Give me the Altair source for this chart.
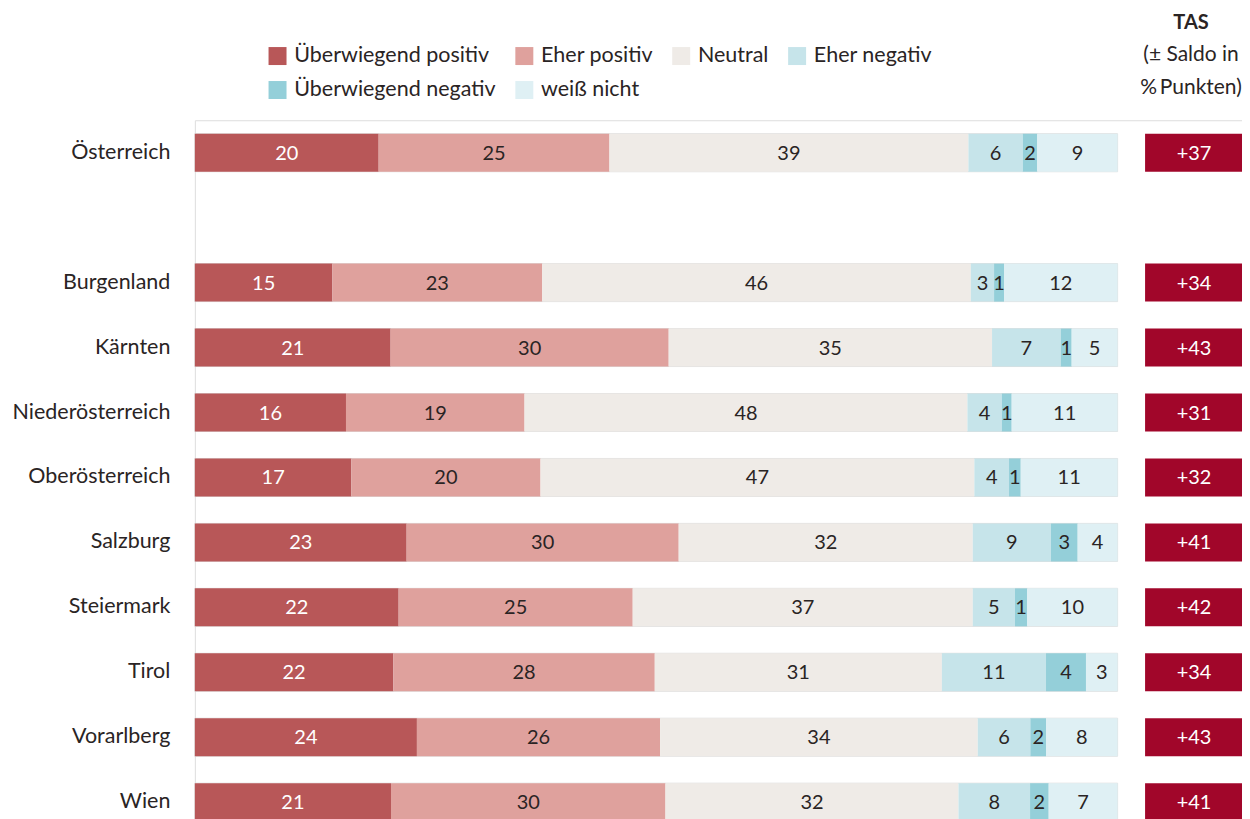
import altair as alt
import pandas as pd

regions = ["Österreich", "Burgenland", "Kärnten", "Niederösterreich", "Oberösterreich",
           "Salzburg", "Steiermark", "Tirol", "Vorarlberg", "Wien"]
categories = ["Überwiegend positiv", "Eher positiv", "Neutral", "Eher negativ",
              "Überwiegend negativ", "weiß nicht"]
colors = ["#b85758", "#dfa19d", "#efebe7", "#c6e4ea", "#94cfd9", "#dff0f4"]

# shares (percent)
ueberwiegend_positiv = [19.92, 14.91, 21.22, 16.38, 16.97, 22.96, 22.09, 21.52, 24.07, 21.26]
eher_positiv = [25.01, 22.74, 30.14, 19.35, 20.50, 29.49, 25.37, 28.33, 26.36, 29.75]
neutral = [38.90, 46.45, 35.05, 48.00, 47.03, 31.88, 36.86, 31.12, 34.43, 31.76]
eher_negativ = [5.89, 2.52, 7.44, 3.72, 3.76, 8.48, 4.58, 11.29, 5.70, 7.76]
ueberwiegend_negativ = [1.58, 1.08, 1.19, 1.08, 1.27, 2.89, 1.33, 4.33, 1.70, 2.02]
weiss_nicht = [8.70, 12.31, 4.98, 11.48, 10.50, 4.33, 9.79, 3.43, 7.76, 7.47]

# printed labels
lab_up = [20, 15, 21, 16, 17, 23, 22, 22, 24, 21]
lab_ep = [25, 23, 30, 19, 20, 30, 25, 28, 26, 30]
lab_n = [39, 46, 35, 48, 47, 32, 37, 31, 34, 32]
lab_en = [6, 3, 7, 4, 4, 9, 5, 11, 6, 8]
lab_un = [2, 1, 1, 1, 1, 3, 1, 4, 2, 2]
lab_wn = [9, 12, 5, 11, 11, 4, 10, 3, 8, 7]

tas = ["+37", "+34", "+43", "+31", "+32", "+41", "+42", "+34", "+43", "+41"]
header_title = "TAS"
header_lines = ["(± Saldo in", "%\u2009Punkten)"]

GAP = "_gap_"
y_domain = [regions[0], GAP] + regions[1:]

series = [ueberwiegend_positiv, eher_positiv, neutral, eher_negativ, ueberwiegend_negativ, weiss_nicht]
labels = [lab_up, lab_ep, lab_n, lab_en, lab_un, lab_wn]

rows = []
for ci, cat in enumerate(categories):
    for ri, reg in enumerate(regions):
        rows.append({"region": reg, "category": cat, "order": ci,
                     "value": series[ci][ri], "label": str(labels[ci][ri])})
df = pd.DataFrame(rows)
df_reg = pd.DataFrame({"region": regions, "tas": tas})

FONT = "Lato"
TXT = "#2a2424"
W = 1048

yenc = alt.Y("region:N",
             scale=alt.Scale(domain=y_domain, paddingInner=0.415, paddingOuter=0.2075),
             axis=alt.Axis(title=None, domain=False, ticks=False, grid=False, labelPadding=25,
                           labelFontSize=21.5, labelFont=FONT, labelColor=TXT,
                           labelExpr="datum.value == '_gap_' ? '' : datum.value"))
xscale = alt.Scale(domain=[0, 113.48], nice=False, zero=False)

base = alt.Chart(df).transform_stack(
    stack="value", groupby=["region"], as_=["s0", "s1"], offset="normalize",
    sort=[alt.SortField("order", order="ascending")]
).transform_calculate(
    x0="datum.s0 * 100", x1="datum.s1 * 100", mid="(datum.s0 + datum.s1) * 50"
)

# thin grey edge around each full bar
edge = base.transform_filter(alt.datum.order == 0).mark_bar(
    color="white", stroke="#dedede", strokeWidth=1
).encode(
    x=alt.X("zero:Q", scale=xscale, axis=None), x2="hundred:Q", y=yenc
).transform_calculate(zero="0", hundred="100")

segments = base.mark_bar().encode(
    x=alt.X("x0:Q", scale=xscale, axis=None), x2="x1:Q", y=yenc,
    color=alt.Color("category:N",
                    scale=alt.Scale(domain=categories, range=colors),
                    legend=alt.Legend(orient="none", legendX=72, legendY=-75,
                                      direction="horizontal", columns=4, gridAlign="none",
                                      columnPadding=17, rowPadding=11, symbolType="square",
                                      symbolSize=324, symbolStrokeWidth=0, symbolOpacity=1,
                                      labelFontSize=21.5, labelFont=FONT, labelColor=TXT,
                                      labelOffset=6, labelLimit=400, title=None, padding=0)),
)

seg_text = base.mark_text(fontSize=20, font=FONT, baseline="middle", dy=1).encode(
    x=alt.X("mid:Q", scale=xscale, axis=None), y=yenc, text="label:N",
    color=alt.condition(alt.datum.category == "Überwiegend positiv",
                        alt.value("white"), alt.value(TXT)),
)

tas_box = alt.Chart(df_reg).mark_bar(color="#a1062a").encode(
    x=alt.value(951), x2=alt.value(W), y=yenc
)
tas_text = alt.Chart(df_reg).mark_text(fontSize=20, font=FONT, color="white", baseline="middle", dy=1).encode(
    x=alt.value(1000), y=yenc, text="tas:N"
)

hdr_df = pd.DataFrame({"t": [header_title]})
hdr1_df = pd.DataFrame({"t": [header_lines[0]]})
hdr2_df = pd.DataFrame({"t": [header_lines[1]]})
hdr = alt.Chart(hdr_df).mark_text(fontSize=20, font=FONT, fontWeight="bold", color=TXT, baseline="middle").encode(
    x=alt.value(997), y=alt.value(-97.5), text="t:N")
hdr1 = alt.Chart(hdr1_df).mark_text(fontSize=21, font=FONT, color=TXT, baseline="middle").encode(
    x=alt.value(997), y=alt.value(-65.5), text="t:N")
hdr2 = alt.Chart(hdr2_df).mark_text(fontSize=21, font=FONT, color=TXT, baseline="middle").encode(
    x=alt.value(997), y=alt.value(-32.5), text="t:N")

chart = alt.layer(edge, segments, seg_text, tas_box, tas_text, hdr, hdr1, hdr2).properties(
    width=W, height=alt.Step(65),
    padding={"left": 3, "top": 4, "right": 0, "bottom": 5}
).configure_view(stroke=None, strokeWidth=0).configure_axis(
    domain=False, grid=False, ticks=False
).configure(font=FONT)

chart.save("out.html", embed_options={"renderer": "svg", "actions": False})
